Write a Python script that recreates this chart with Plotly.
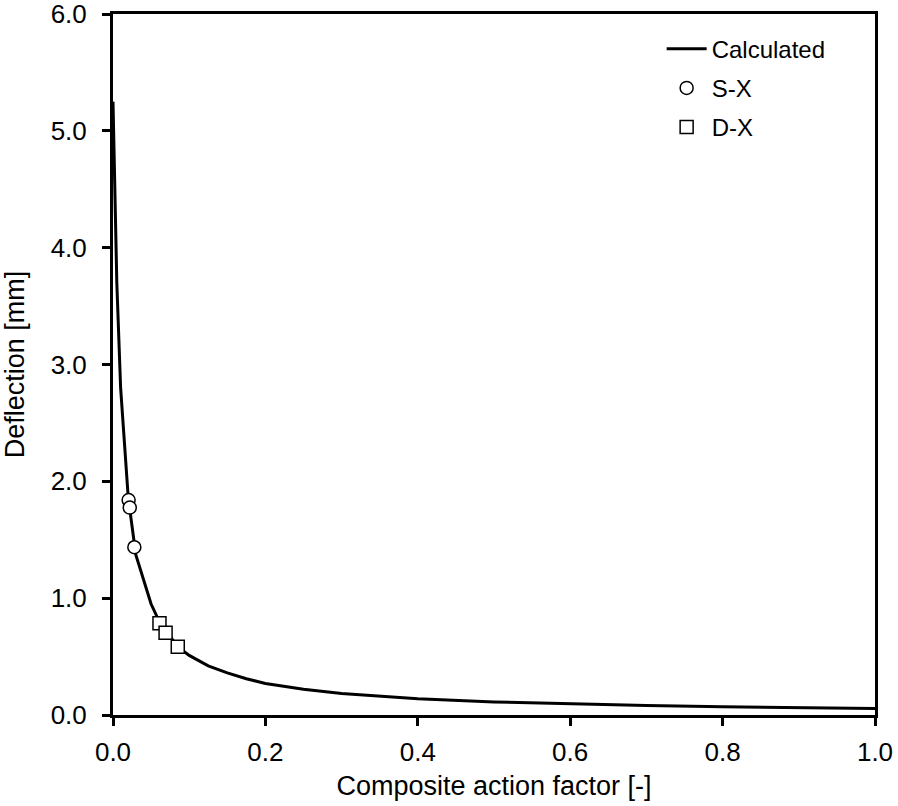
import plotly.graph_objects as go

# calculated curve
calc_x = [0, 0.005, 0.01, 0.02, 0.03, 0.04, 0.05, 0.06, 0.07, 0.08, 0.09, 0.1,
          0.125, 0.15, 0.175, 0.2, 0.25, 0.3, 0.4, 0.5, 0.6, 0.7, 0.8, 0.9, 1.0]
calc_y = [5.25, 3.7, 2.8, 1.86, 1.37, 1.15, 0.95, 0.81, 0.71, 0.63, 0.56, 0.51,
          0.42, 0.36, 0.31, 0.27, 0.22, 0.185, 0.14, 0.112, 0.094, 0.081, 0.071, 0.063, 0.056]

# test series
sx_x = [0.0205, 0.022, 0.028]
sx_y = [1.84, 1.775, 1.436]
dx_x = [0.061, 0.069, 0.085]
dx_y = [0.785, 0.705, 0.585]

font = "Liberation Sans, Arial, sans-serif"

fig = go.Figure()
fig.add_trace(go.Scatter(x=calc_x, y=calc_y, mode="lines", name="Calculated",
                         line=dict(color="black", width=3), legendgroup="a"))
fig.add_trace(go.Scatter(x=sx_x, y=sx_y, mode="markers", name="S-X", legendgroup="b",
                         marker=dict(symbol="circle", size=13, color="white",
                                     line=dict(color="black", width=1.5))))
fig.add_trace(go.Scatter(x=dx_x, y=dx_y, mode="markers", name="D-X", legendgroup="c",
                         marker=dict(symbol="square", size=13, color="white",
                                     line=dict(color="black", width=1.5))))

axis_common = dict(showgrid=False, zeroline=False, showline=True, linecolor="black",
                   linewidth=3, mirror=True, ticks="outside", ticklen=8, tickwidth=3,
                   tickcolor="black", tickformat=".1f", automargin=False,
                   ticklabeloverflow="allow",
                   tickfont=dict(family=font, size=26, color="black"))

fig.update_xaxes(range=[0, 1], dtick=0.2, tick0=0, ticklabelstandoff=4,
                 title=dict(text="Composite action factor [-]", standoff=10,
                            font=dict(family=font, size=27, color="black")),
                 **axis_common)
fig.update_yaxes(range=[0, 6], dtick=1, tick0=0, ticklabelstandoff=10,
                 title=dict(text="Deflection [mm]", standoff=20,
                            font=dict(family=font, size=27, color="black")),
                 **axis_common)

fig.update_layout(
    width=898, height=806,
    margin=dict(l=113, r=23, t=14, b=91, autoexpand=False),
    plot_bgcolor="white", paper_bgcolor="white",
    font=dict(family=font, color="black"),
    legend=dict(x=0.72, y=0.982, xanchor="left", yanchor="top",
                bgcolor="rgba(0,0,0,0)", font=dict(family=font, size=24, color="black"),
                traceorder="grouped", tracegroupgap=5, itemwidth=40),
)

fig.write_html("out.html", config={"displayModeBar": False},
               post_script="document.body.style.margin='0';")
